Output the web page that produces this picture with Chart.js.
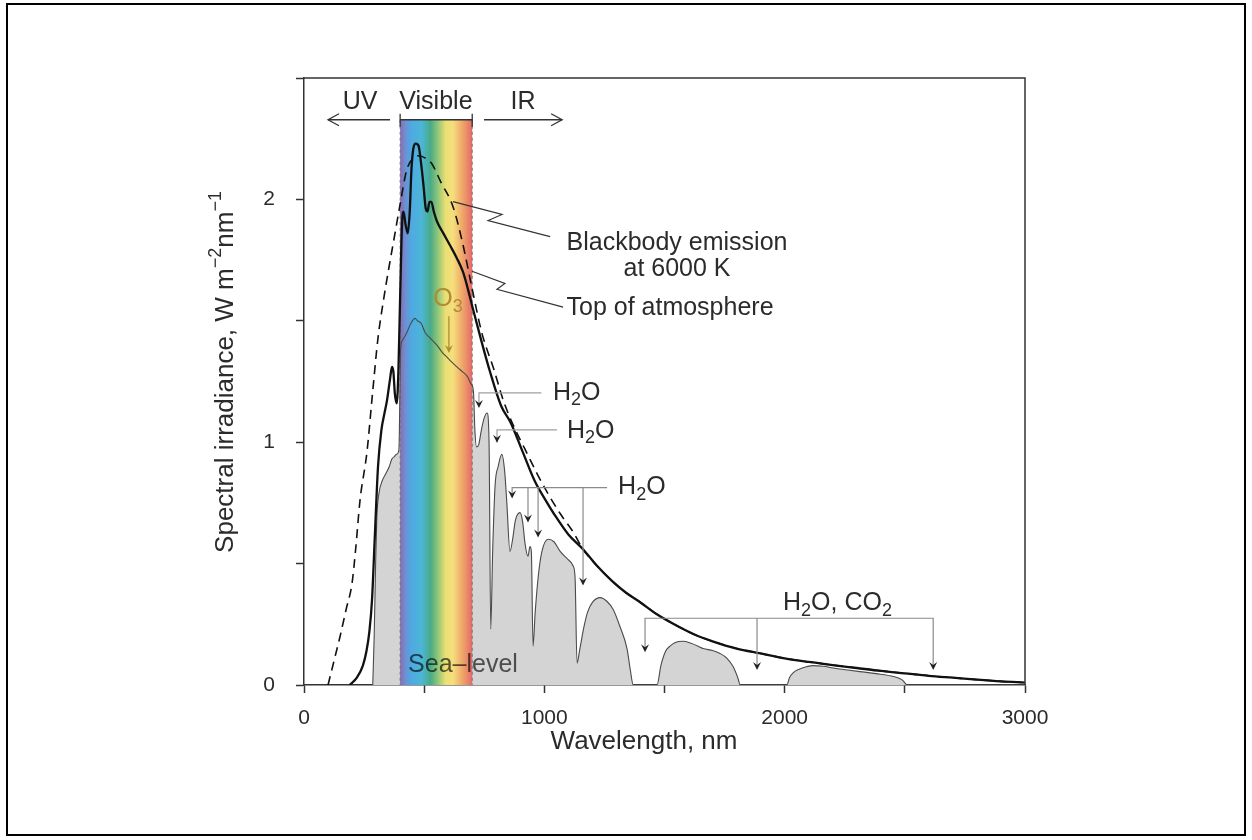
<!DOCTYPE html>
<html>
<head>
<meta charset="utf-8">
<script src="https://cdn.jsdelivr.net/npm/chart.js@4/dist/chart.umd.min.js"></script>
<style>
  html, body { margin: 0; padding: 0; background: #fff; }
  #frame { position: absolute; left: 6px; top: 3px; width: 1240px; height: 833px; box-sizing: border-box; border: 2px solid #000; }
  #spectrum { position: absolute; left: 0; top: 0; }
</style>
</head>
<body>
<div id="frame"></div>
<canvas id="spectrum" width="1252" height="840"></canvas>
<script>
// Blackbody emission at 6000 K (dashed), wavelength in nm / W m-2 nm-1
const blackbodyNm = [100,125,150,175,200,215,233,262,285,308,330,350,375,400,427,455,480,505,530,570,620,660,700,740,790,830,880,920,970,1020,1070,1120,1160,1220,1280,1340,1400,1470,1540,1620,1700,1800,1900,2000,2100,2200,2300,2400,2500,2600,2700,2800,2900,3000];
const blackbody = [0,0.1,0.2,0.31,0.42,0.56,0.76,0.96,1.2,1.43,1.58,1.70,1.84,1.98,2.12,2.17,2.18,2.17,2.15,2.07,1.97,1.82,1.63,1.45,1.30,1.17,1.05,0.97,0.87,0.78,0.70,0.63,0.56,0.49,0.43,0.38,0.34,0.29,0.25,0.21,0.18,0.15,0.13,0.11,0.095,0.082,0.07,0.058,0.048,0.038,0.03,0.022,0.015,0.01];

// Top of atmosphere (solid)
const topNm = [190,220,245,260,272,283,295,308,322,335,345,358,366,372,378,386,393,400,408,414,422,432,440,447,455,465,477,487,497,507,514,522,530,540,553,580,608,635,662,690,700,740,774,820,860,910,960,1000,1050,1100,1160,1220,1280,1340,1400,1470,1540,1620,1700,1800,1900,2000,2100,2200,2300,2400,2500,2600,2700,2800,2900,3000];
const topOfAtmosphere = [0,0.03,0.08,0.14,0.22,0.35,0.62,0.9,1.05,1.12,1.17,1.26,1.31,1.29,1.2,1.16,1.3,1.6,1.9,1.95,1.9,1.86,1.95,2.12,2.21,2.23,2.22,2.15,2.06,1.96,1.95,1.99,1.99,1.95,1.91,1.86,1.81,1.76,1.70,1.6,1.56,1.41,1.29,1.15,1.08,0.96,0.84,0.77,0.69,0.62,0.56,0.49,0.43,0.38,0.34,0.29,0.25,0.21,0.18,0.15,0.13,0.11,0.095,0.082,0.07,0.058,0.048,0.038,0.03,0.022,0.015,0.01];

// Sea level (grey area)
const seaNm = [286,292,298,303,312,325,340,355,365,375,385,395,402,410,427,445,462,472,487,505,524,553,575,595,615,636,660,680,695,705,711,718,727,738,750,762,770,777,785,795,808,823,835,844,857,868,880,899,910,920,932,940,946,953,962,975,990,1016,1040,1066,1095,1120,1128,1136,1148,1165,1180,1200,1232,1260,1287,1315,1344,1358,1370,1469,1485,1505,1523,1545,1578,1610,1640,1661,1700,1731,1760,1786,1805,1815,2009,2020,2035,2060,2090,2118,2160,2202,2260,2313,2380,2453,2490,2510,3000];
const seaLevel = [0,0.2,0.5,0.69,0.79,0.84,0.87,0.9,0.93,0.94,0.95,0.97,1.38,1.42,1.45,1.49,1.51,1.5,1.49,1.45,1.43,1.40,1.37,1.35,1.33,1.31,1.29,1.27,1.24,1.21,1.05,0.98,0.99,1.05,1.1,1.12,1.0,0.23,0.55,0.82,0.9,0.95,0.88,0.75,0.55,0.6,0.68,0.71,0.67,0.58,0.53,0.57,0.55,0.16,0.3,0.45,0.55,0.6,0.59,0.55,0.52,0.49,0.44,0.09,0.15,0.24,0.3,0.34,0.36,0.345,0.31,0.24,0.15,0.06,0,0,0.08,0.14,0.16,0.175,0.18,0.172,0.16,0.15,0.142,0.13,0.11,0.075,0.03,0,0,0.03,0.05,0.065,0.075,0.08,0.077,0.07,0.062,0.055,0.047,0.035,0.02,0,0];

// Axis ticks
const xTicks = [0, 1000, 2000, 3000];
const yTicks = [0, 1, 2];
const visibleNm = [400, 700];

const FONT = '"Liberation Sans", Arial, Helvetica, sans-serif';
const INK = '#2b2b2b';
const AXIS = '#333';
const NOTE = 25;

function pairs(xs, ys) {
    return xs.map((v, i) => ({ x: v, y: ys[i] }));
}

// "H_2O" -> H, subscript 2, O ; "m^-2" -> m, superscript -2
function drawRich(ctx, text, x, y, size, align) {
    const pieces = [];
    for (let i = 0; i < text.length; i++) {
        if (text[i] === '_') { pieces.push([text[i + 1], 1]); i++; }
        else if (text[i] === '^') { pieces.push(['\u2212' + text[i + 2], -1]); i += 2; }
        else if (pieces.length && pieces[pieces.length - 1][1] === 0) pieces[pieces.length - 1][0] += text[i];
        else pieces.push([text[i], 0]);
    }
    const big = size + 'px ' + FONT;
    const small = Math.round(size * 0.7) + 'px ' + FONT;
    let w = 0;
    pieces.forEach(p => { ctx.font = p[1] ? small : big; w += ctx.measureText(p[0]).width; });
    let cx = align === 'center' ? x - w / 2 : x;
    ctx.textAlign = 'left';
    ctx.textBaseline = 'middle';
    pieces.forEach(p => {
        ctx.font = p[1] ? small : big;
        const dy = p[1] === 1 ? size * 0.3 : p[1] === -1 ? -size * 0.38 : 0;
        ctx.fillText(p[0], cx, y + dy);
        cx += ctx.measureText(p[0]).width;
    });
}

function downHead(ctx, x, y) {
    ctx.beginPath();
    ctx.moveTo(x, y);
    ctx.lineTo(x - 4, y - 8);
    ctx.lineTo(x, y - 5);
    ctx.lineTo(x + 4, y - 8);
    ctx.closePath();
    ctx.fill();
}

function poly(ctx, pts) {
    ctx.beginPath();
    pts.forEach((p, i) => i ? ctx.lineTo(p[0], p[1]) : ctx.moveTo(p[0], p[1]));
    ctx.stroke();
}

// rainbow band over the grey fill, under the curves
const bandPlugin = {
    id: 'band',
    afterDatasetDraw(chart, args) {
        if (args.index !== 0) return;
        const { ctx, scales: { x, y } } = chart;
        const x0 = x.getPixelForValue(visibleNm[0]);
        const x1 = x.getPixelForValue(visibleNm[1]);
        const top = y.getPixelForValue(2.328);
        const bottom = y.getPixelForValue(0);
        const g = ctx.createLinearGradient(x0, 0, x1, 0);
        g.addColorStop(0, '#8a6bb0');
        g.addColorStop(0.07, '#6d8fd2');
        g.addColorStop(0.16, '#4eaae2');
        g.addColorStop(0.3, '#4cb6d6');
        g.addColorStop(0.42, '#49aa88');
        g.addColorStop(0.53, '#94c878');
        g.addColorStop(0.63, '#eadf72');
        g.addColorStop(0.73, '#f5df7c');
        g.addColorStop(0.86, '#f0a86a');
        g.addColorStop(1, '#e46a68');
        ctx.save();
        ctx.fillStyle = g;
        ctx.fillRect(x0, top, x1 - x0, bottom - top);
        ctx.strokeStyle = 'rgba(110,110,110,0.9)';
        ctx.lineWidth = 1;
        ctx.setLineDash([3, 3]);
        poly(ctx, [[x0, top], [x0, bottom]]);
        poly(ctx, [[x1, top], [x1, bottom]]);
        ctx.restore();
    }
};

const notesPlugin = {
    id: 'notes',
    afterDatasetsDraw(chart) {
        const { ctx, chartArea: a, scales: { x, y } } = chart;
        const X = v => x.getPixelForValue(v);
        const Y = v => y.getPixelForValue(v);
        ctx.save();

        // closing frame
        ctx.strokeStyle = AXIS;
        ctx.lineWidth = 1.5;
        poly(ctx, [[a.left, a.top], [a.right, a.top], [a.right, a.bottom]]);

        // axis titles
        ctx.fillStyle = INK;
        drawRich(ctx, 'Wavelength, nm', a.left + 340, a.bottom + 57, 26, 'center');
        ctx.save();
        ctx.translate(a.left - 78, a.top + 294);
        ctx.rotate(-Math.PI / 2);
        drawRich(ctx, 'Spectral irradiance, W m^-2nm^-1', 0, 0, 26, 'center');
        ctx.restore();

        // UV / Visible / IR
        const yb = Y(2.328);
        ctx.lineWidth = 1.3;
        poly(ctx, [[X(358), yb], [X(100), yb]]);
        poly(ctx, [[X(100) + 11, yb - 6], [X(100), yb], [X(100) + 11, yb + 6]]);
        poly(ctx, [[X(400), yb], [X(700), yb]]);
        poly(ctx, [[X(400), yb - 6], [X(400), yb + 7]]);
        poly(ctx, [[X(700), yb - 6], [X(700), yb + 7]]);
        poly(ctx, [[X(749), yb], [X(1074), yb]]);
        poly(ctx, [[X(1074) - 11, yb - 6], [X(1074), yb], [X(1074) - 11, yb + 6]]);
        ctx.font = NOTE + 'px ' + FONT;
        ctx.textAlign = 'center';
        ctx.textBaseline = 'middle';
        ctx.fillText('UV', X(233), Y(2.40));
        ctx.fillText('Visible', X(549), Y(2.40));
        ctx.fillText('IR', X(911), Y(2.40));

        // zigzag leaders
        ctx.lineWidth = 1.2;
        ctx.strokeStyle = '#333';
        poly(ctx, [[X(620), Y(1.991)], [X(824), Y(1.938)], [X(766), Y(1.913)], [X(1024), Y(1.847)]]);
        poly(ctx, [[X(699), Y(1.704)], [X(836), Y(1.654)], [X(803), Y(1.63)], [X(1078), Y(1.556)]]);
        ctx.fillText('Blackbody emission', X(1552), Y(1.819));
        ctx.fillText('at 6000 K', X(1552), Y(1.712));
        ctx.fillText('Top of atmosphere', X(1523), Y(1.552));

        // O3
        ctx.fillStyle = '#b08c34';
        ctx.strokeStyle = '#a8852e';
        drawRich(ctx, 'O_3', X(538), Y(1.589), NOTE, 'left');
        poly(ctx, [[X(603), Y(1.519)], [X(603), Y(1.38)]]);
        downHead(ctx, X(603), Y(1.367));

        // H2O / CO2 leaders
        ctx.strokeStyle = '#a0a0a0';
        ctx.fillStyle = '#222';
        ctx.lineWidth = 1.2;
        poly(ctx, [[X(988), Y(1.203)], [X(728), Y(1.203)], [X(728), Y(1.15)]]);
        downHead(ctx, X(728), Y(1.141));
        poly(ctx, [[X(1053), Y(1.051)], [X(803), Y(1.051)], [X(803), Y(1.0)]]);
        downHead(ctx, X(803), Y(0.998));
        ctx.strokeStyle = '#8a8a8a';
        poly(ctx, [[X(1261), Y(0.813)], [X(866), Y(0.813)], [X(866), Y(0.775)]]);
        downHead(ctx, X(866), Y(0.768));
        [[932, 0.669], [974, 0.608], [1161, 0.41]].forEach(d => {
            poly(ctx, [[X(d[0]), Y(0.813)], [X(d[0]), Y(d[1]) - 3]]);
            downHead(ctx, X(d[0]), Y(d[1]));
        });
        poly(ctx, [[X(1419), Y(0.145)], [X(1419), Y(0.275)], [X(2618), Y(0.275)], [X(2618), Y(0.07)]]);
        downHead(ctx, X(1419), Y(0.135));
        downHead(ctx, X(2618), Y(0.062));
        poly(ctx, [[X(1885), Y(0.275)], [X(1885), Y(0.07)]]);
        downHead(ctx, X(1885), Y(0.062));

        ctx.fillStyle = INK;
        drawRich(ctx, 'H_2O', X(1036), Y(1.203), NOTE, 'left');
        drawRich(ctx, 'H_2O', X(1094), Y(1.047), NOTE, 'left');
        drawRich(ctx, 'H_2O', X(1307), Y(0.813), NOTE, 'left');
        drawRich(ctx, 'H_2O, CO_2', X(1993), Y(0.337), NOTE, 'left');

        // Sea-level label, blended into the band
        ctx.globalCompositeOperation = 'multiply';
        ctx.fillStyle = '#5c5c5c';
        ctx.font = NOTE + 'px ' + FONT;
        ctx.textAlign = 'left';
        ctx.fillText('Sea\u2013level', X(433), Y(0.082));
        ctx.restore();
    }
};

const tickFont = { family: FONT, size: 21 };

new Chart(document.getElementById('spectrum'), {
    type: 'line',
    data: {
        datasets: [
            {
                label: 'Sea level fill',
                data: pairs(seaNm, seaLevel),
                fill: 'origin',
                backgroundColor: '#d4d4d4',
                borderWidth: 0,
                pointRadius: 0,
                cubicInterpolationMode: 'monotone',
                order: 4
            },
            {
                label: 'Sea level',
                data: pairs(seaNm, seaLevel),
                fill: false,
                borderColor: '#4a4a4a',
                borderWidth: 1.1,
                pointRadius: 0,
                cubicInterpolationMode: 'monotone',
                order: 3
            },
            {
                label: 'Blackbody emission at 6000 K',
                data: pairs(blackbodyNm, blackbody),
                fill: false,
                borderColor: '#111',
                borderWidth: 1.6,
                borderDash: [9, 6],
                pointRadius: 0,
                cubicInterpolationMode: 'monotone',
                order: 2
            },
            {
                label: 'Top of atmosphere',
                data: pairs(topNm, topOfAtmosphere),
                fill: false,
                borderColor: '#111',
                borderWidth: 2.3,
                pointRadius: 0,
                cubicInterpolationMode: 'monotone',
                order: 1
            }
        ]
    },
    options: {
        responsive: false,
        animation: false,
        devicePixelRatio: 1,
        layout: { padding: { left: 210, right: 227, top: 78, bottom: 82 } },
        plugins: { legend: { display: false }, tooltip: { enabled: false } },
        scales: {
            x: {
                type: 'linear',
                min: 0,
                max: 3000,
                afterFit: scale => { scale.height = 73; },
                ticks: {
                    stepSize: 500,
                    autoSkip: false,
                    maxRotation: 0,
                    padding: 13,
                    color: INK,
                    font: tickFont,
                    callback: v => xTicks.includes(v) ? String(v) : ''
                },
                grid: { drawOnChartArea: false, tickLength: 8, tickColor: AXIS, tickWidth: 1.5 },
                border: { color: AXIS, width: 1.5 },
                title: { display: false }
            },
            y: {
                min: 0,
                max: 2.5,
                afterFit: scale => { scale.width = 94; },
                ticks: {
                    stepSize: 0.5,
                    padding: 21,
                    color: INK,
                    font: tickFont,
                    callback: v => yTicks.includes(v) ? String(v) : ''
                },
                grid: { drawOnChartArea: false, tickLength: 8, tickColor: AXIS, tickWidth: 1.5 },
                border: { color: AXIS, width: 1.5 },
                title: { display: false }
            }
        }
    },
    plugins: [bandPlugin, notesPlugin]
});
</script>
</body>
</html>
